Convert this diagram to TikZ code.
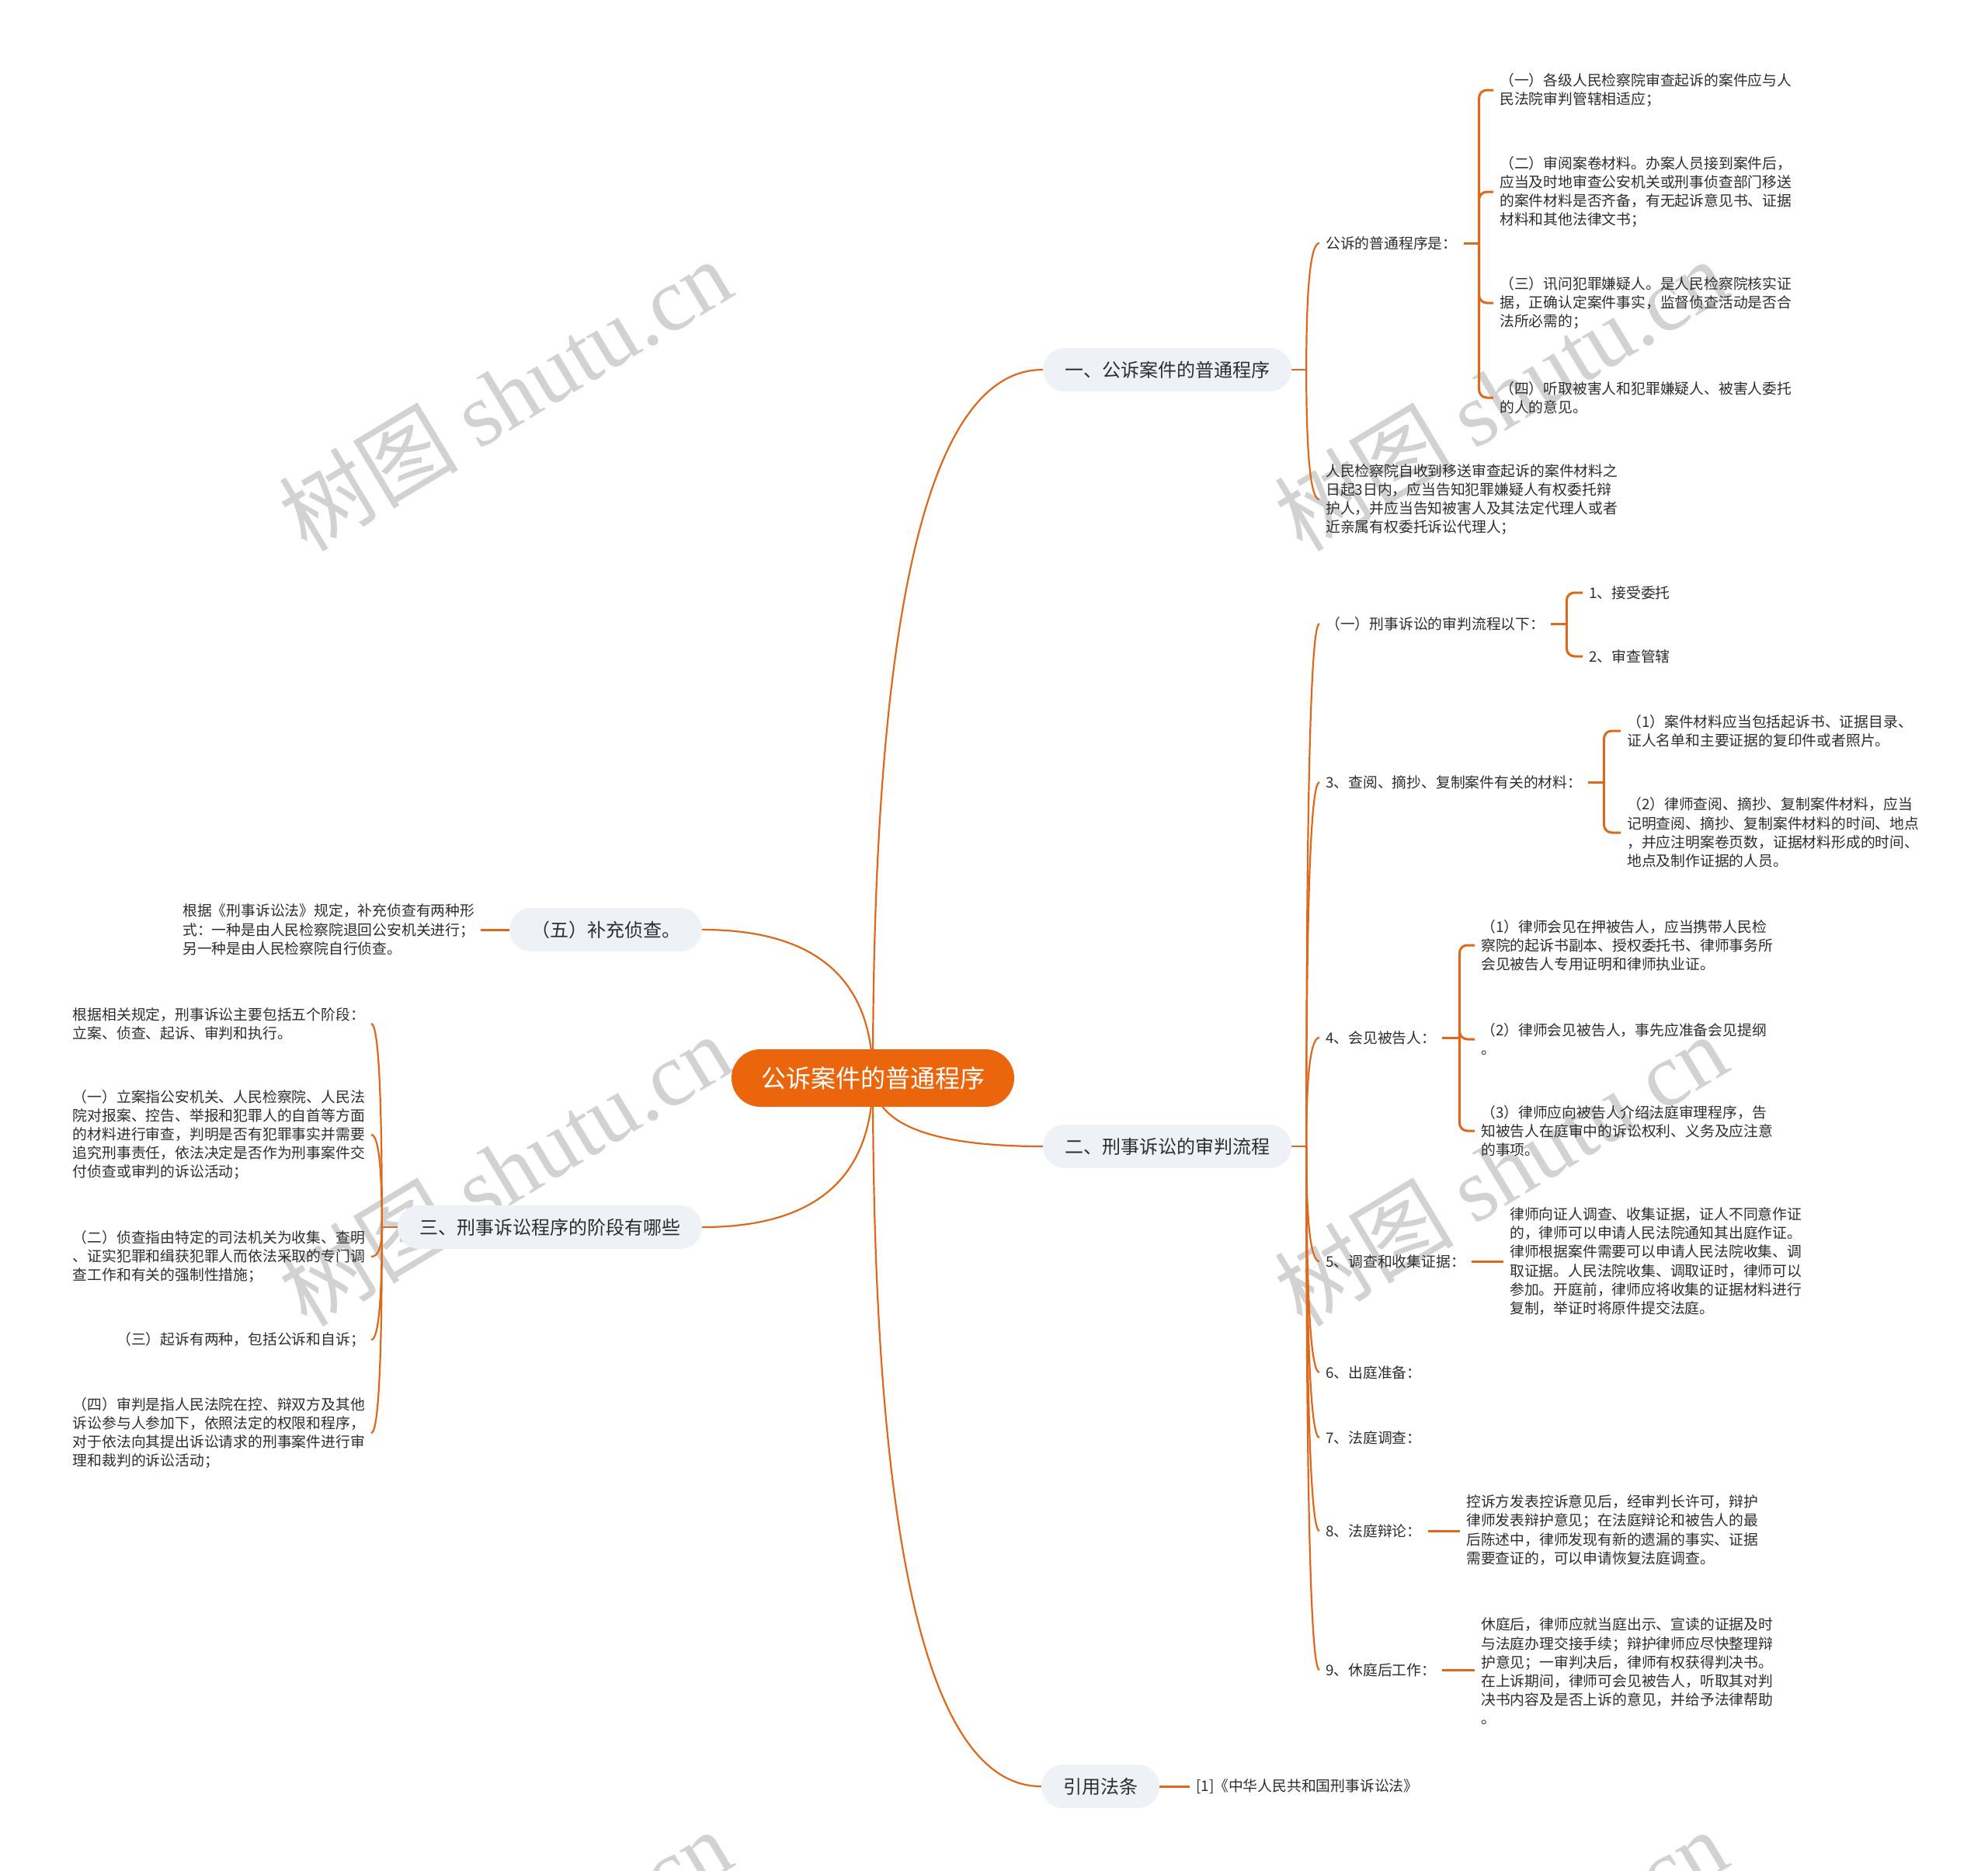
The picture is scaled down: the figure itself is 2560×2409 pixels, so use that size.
\documentclass[tikz,border=0pt]{standalone}
\usepackage{fontspec}
\setmainfont{Noto Sans CJK SC}
\newfontfamily\wmlatin{Liberation Serif}
\usetikzlibrary{calc}
\definecolor{linec}{RGB}{222,104,28}
\definecolor{centc}{RGB}{235,101,12}
\definecolor{pillc}{RGB}{238,241,245}
\definecolor{txtc}{RGB}{45,45,45}
\definecolor{wmc}{RGB}{210,210,210}
\newcommand\leaffont{\fontsize{18.8pt}{24.2pt}\selectfont}
\newcommand\pillfont{\fontsize{24pt}{28pt}\selectfont}
\newcommand\centfont{\fontsize{32pt}{36pt}\selectfont}
\newcommand\wmfont{\fontsize{116pt}{126pt}\selectfont}
\pgfdeclarelayer{wm}
\pgfdeclarelayer{bg}
\pgfsetlayers{wm,bg,main}
\tikzset{
  centre/.style={fill=centc, text=white, font=\centfont, rounded corners=37pt, minimum height=74pt, inner xsep=38pt, inner ysep=0pt},
  pill/.style={fill=pillc, text=txtc, font=\pillfont, rounded corners=28pt, minimum height=56pt, inner xsep=28pt, inner ysep=0pt},
  leaf/.style={text=txtc, font=\leaffont, align=left, inner xsep=8pt, inner ysep=2pt},
  lvlone/.style={draw=linec, line width=2.2pt},
  lvltwo/.style={draw=linec, line width=2.2pt},
  lvlthree/.style={draw=linec, line width=3pt, rounded corners=10pt},
  qcurve/.style={to path={.. controls ($(\tikztostart)!0.667!(\tikztostart|-\tikztotarget)$) and ($(\tikztotarget)!0.667!(\tikztostart|-\tikztotarget)$) .. (\tikztotarget)}},
  wmark/.style={text=wmc, font=\wmfont, rotate=31, inner sep=0pt},
}
\begin{document}
\begin{tikzpicture}[x=1pt,y=-1pt]
\useasboundingbox (0,0) rectangle (2560,2409);

% main topics
\node[centre] (c) at (1124,1388) {公诉案件的普通程序};
\node[pill] (b1) at (1503,476) {一、公诉案件的普通程序};
\node[pill] (b2) at (1503,1476) {二、刑事诉讼的审判流程};
\node[pill] (b3) at (1417,2300) {引用法条};
\node[pill] (b5) at (780,1197) {（五）补充侦查。};
\node[pill] (b4) at (708,1580) {三、刑事诉讼程序的阶段有哪些};

% branch one
\node[leaf, anchor=west] (p1) at (1699,313) {公诉的普通程序是：};
\node[leaf, anchor=west] (p2) at (1699,643) {人民检察院自收到移送审查起诉的案件材料之\\日起3日内，应当告知犯罪嫌疑人有权委托辩\\护人，并应当告知被害人及其法定代理人或者\\近亲属有权委托诉讼代理人；};
\node[leaf, anchor=west] (p11) at (1923,116) {（一）各级人民检察院审查起诉的案件应与人\\民法院审判管辖相适应；};
\node[leaf, anchor=west] (p12) at (1923,247) {（二）审阅案卷材料。办案人员接到案件后，\\应当及时地审查公安机关或刑事侦查部门移送\\的案件材料是否齐备，有无起诉意见书、证据\\材料和其他法律文书；};
\node[leaf, anchor=west] (p13) at (1923,390) {（三）讯问犯罪嫌疑人。是人民检察院核实证\\据，正确认定案件事实，监督侦查活动是否合\\法所必需的；};
\node[leaf, anchor=west] (p14) at (1923,512) {（四）听取被害人和犯罪嫌疑人、被害人委托\\的人的意见。};

% branch two
\node[leaf, anchor=west] (q1) at (1699,803) {（一）刑事诉讼的审判流程以下：};
\node[leaf, anchor=west] (q11) at (2038,763) {1、接受委托};
\node[leaf, anchor=west] (q12) at (2038,845) {2、审查管辖};
\node[leaf, anchor=west] (q3) at (1699,1007) {3、查阅、摘抄、复制案件有关的材料：};
\node[leaf, anchor=west] (q31) at (2087,941) {（1）案件材料应当包括起诉书、证据目录、\\证人名单和主要证据的复印件或者照片。};
\node[leaf, anchor=west] (q32) at (2087,1072) {（2）律师查阅、摘抄、复制案件材料，应当\\记明查阅、摘抄、复制案件材料的时间、地点\\，并应注明案卷页数，证据材料形成的时间、\\地点及制作证据的人员。};
\node[leaf, anchor=west] (q4) at (1699,1336) {4、会见被告人：};
\node[leaf, anchor=west] (q41) at (1899,1217) {（1）律师会见在押被告人，应当携带人民检\\察院的起诉书副本、授权委托书、律师事务所\\会见被告人专用证明和律师执业证。};
\node[leaf, anchor=west] (q42) at (1899,1338) {（2）律师会见被告人，事先应准备会见提纲\\。};
\node[leaf, anchor=west] (q43) at (1899,1456) {（3）律师应向被告人介绍法庭审理程序，告\\知被告人在庭审中的诉讼权利、义务及应注意\\的事项。};
\node[leaf, anchor=west] (q5) at (1699,1624) {5、调查和收集证据：};
\node[leaf, anchor=west] (q51) at (1936,1624) {律师向证人调查、收集证据，证人不同意作证\\的，律师可以申请人民法院通知其出庭作证。\\律师根据案件需要可以申请人民法院收集、调\\取证据。人民法院收集、调取证时，律师可以\\参加。开庭前，律师应将收集的证据材料进行\\复制，举证时将原件提交法庭。};
\node[leaf, anchor=west] (q6) at (1699,1767) {6、出庭准备：};
\node[leaf, anchor=west] (q7) at (1699,1851) {7、法庭调查：};
\node[leaf, anchor=west] (q8) at (1699,1971) {8、法庭辩论：};
\node[leaf, anchor=west] (q81) at (1880,1970) {控诉方发表控诉意见后，经审判长许可，辩护\\律师发表辩护意见；在法庭辩论和被告人的最\\后陈述中，律师发现有新的遗漏的事实、证据\\需要查证的，可以申请恢复法庭调查。};
\node[leaf, anchor=west] (q9) at (1699,2150) {9、休庭后工作：};
\node[leaf, anchor=west] (q91) at (1899,2152) {休庭后，律师应就当庭出示、宣读的证据及时\\与法庭办理交接手续；辩护律师应尽快整理辩\\护意见；一审判决后，律师有权获得判决书。\\在上诉期间，律师可会见被告人，听取其对判\\决书内容及是否上诉的意见，并给予法律帮助\\。};

% branch three (references)
\node[leaf, anchor=west] (r1) at (1532,2300) {[1]《中华人民共和国刑事诉讼法》};

% left side
\node[leaf, anchor=west] (f1) at (227,1197) {根据《刑事诉讼法》规定，补充侦查有两种形\\式：一种是由人民检察院退回公安机关进行；\\另一种是由人民检察院自行侦查。};
\node[leaf, anchor=east] (l1) at (478,1318) {根据相关规定，刑事诉讼主要包括五个阶段：\\立案、侦查、起诉、审判和执行。};
\node[leaf, anchor=east] (l2) at (478,1461) {（一）立案指公安机关、人民检察院、人民法\\院对报案、控告、举报和犯罪人的自首等方面\\的材料进行审查，判明是否有犯罪事实并需要\\追究刑事责任，依法决定是否作为刑事案件交\\付侦查或审判的诉讼活动；};
\node[leaf, anchor=east] (l3) at (478,1618) {（二）侦查指由特定的司法机关为收集、查明\\、证实犯罪和缉获犯罪人而依法采取的专门调\\查工作和有关的强制性措施；};
\node[leaf, anchor=east] (l4) at (478,1725) {（三）起诉有两种，包括公诉和自诉；};
\node[leaf, anchor=east] (l5) at (478,1845) {（四）审判是指人民法院在控、辩双方及其他\\诉讼参与人参加下，依照法定的权限和程序，\\对于依法向其提出诉讼请求的刑事案件进行审\\理和裁判的诉讼活动；};

% junctions
\coordinate (J1) at ([xshift=19pt]b1.east);
\coordinate (J11) at ([xshift=20pt]p1.east);
\coordinate (J2) at ([xshift=19pt]b2.east);
\coordinate (J21) at ([xshift=20pt]q1.east);
\coordinate (J23) at ([xshift=20pt]q3.east);
\coordinate (J24) at ([xshift=22pt]q4.east);
\coordinate (JL) at ([xshift=-20pt]b4.west);

\begin{pgfonlayer}{bg}
\draw[lvlone] (c.center) to[qcurve] (b1.west);
\draw[lvlone] (c.center) to[qcurve] (b2.west);
\draw[lvlone] (c.center) to[qcurve] (b3.west);
\draw[lvlone] (c.center) to[qcurve] (b5.east);
\draw[lvlone] (c.center) to[qcurve] (b4.east);

\draw[lvltwo] (b1.east) -- (J1);
\draw[lvltwo] (J1) to[qcurve] (p1.west);
\draw[lvltwo] (J1) to[qcurve] (p2.west);
\draw[lvlthree] (p1.east) -- (J11);
\draw[lvlthree] (J11) |- (p11.west);
\draw[lvlthree] (J11) |- (p12.west);
\draw[lvlthree] (J11) |- (p13.west);
\draw[lvlthree] (J11) |- (p14.west);

\draw[lvltwo] (b2.east) -- (J2);
\draw[lvltwo] (J2) to[qcurve] (q1.west);
\draw[lvltwo] (J2) to[qcurve] (q3.west);
\draw[lvltwo] (J2) to[qcurve] (q4.west);
\draw[lvltwo] (J2) to[qcurve] (q5.west);
\draw[lvltwo] (J2) to[qcurve] (q6.west);
\draw[lvltwo] (J2) to[qcurve] (q7.west);
\draw[lvltwo] (J2) to[qcurve] (q8.west);
\draw[lvltwo] (J2) to[qcurve] (q9.west);
\draw[lvlthree] (q1.east) -- (J21);
\draw[lvlthree] (J21) |- (q11.west);
\draw[lvlthree] (J21) |- (q12.west);
\draw[lvlthree] (q3.east) -- (J23);
\draw[lvlthree] (J23) |- (q31.west);
\draw[lvlthree] (J23) |- (q32.west);
\draw[lvlthree] (q4.east) -- (J24);
\draw[lvlthree] (J24) |- (q41.west);
\draw[lvlthree] (J24) |- (q42.west);
\draw[lvlthree] (J24) |- (q43.west);
\draw[lvlthree] (q5.east) -- (q5.east -| q51.west);
\draw[lvlthree] (q8.east) -- (q8.east -| q81.west);
\draw[lvlthree] (q9.east) -- (q9.east -| q91.west);

\draw[lvlthree] (b3.east) -- (r1.west);
\draw[lvlthree] (b5.west) -- (f1.east);

\draw[lvltwo] (b4.west) -- (JL);
\draw[lvltwo] (JL) to[qcurve] (l1.east);
\draw[lvltwo] (JL) to[qcurve] (l2.east);
\draw[lvltwo] (JL) to[qcurve] (l3.east);
\draw[lvltwo] (JL) to[qcurve] (l4.east);
\draw[lvltwo] (JL) to[qcurve] (l5.east);
\end{pgfonlayer}

\begin{pgfonlayer}{wm}
\begin{scope}
\clip (0,0) rectangle (2560,2409);
\node[wmark] (w1) at (650,508) {树图 {\wmlatin shutu.cn}};
\node[wmark] (w2) at (1932,508) {树图 {\wmlatin shutu.cn}};
\node[wmark] (w3) at (650,1506) {树图 {\wmlatin shutu.cn}};
\node[wmark] (w4) at (1932,1506) {树图 {\wmlatin shutu.cn}};
\node[wmark] (w5) at (650,2530) {树图 {\wmlatin shutu.cn}};
\node[wmark] (w6) at (1932,2530) {树图 {\wmlatin shutu.cn}};
\end{scope}
\end{pgfonlayer}
\end{tikzpicture}
\end{document}
